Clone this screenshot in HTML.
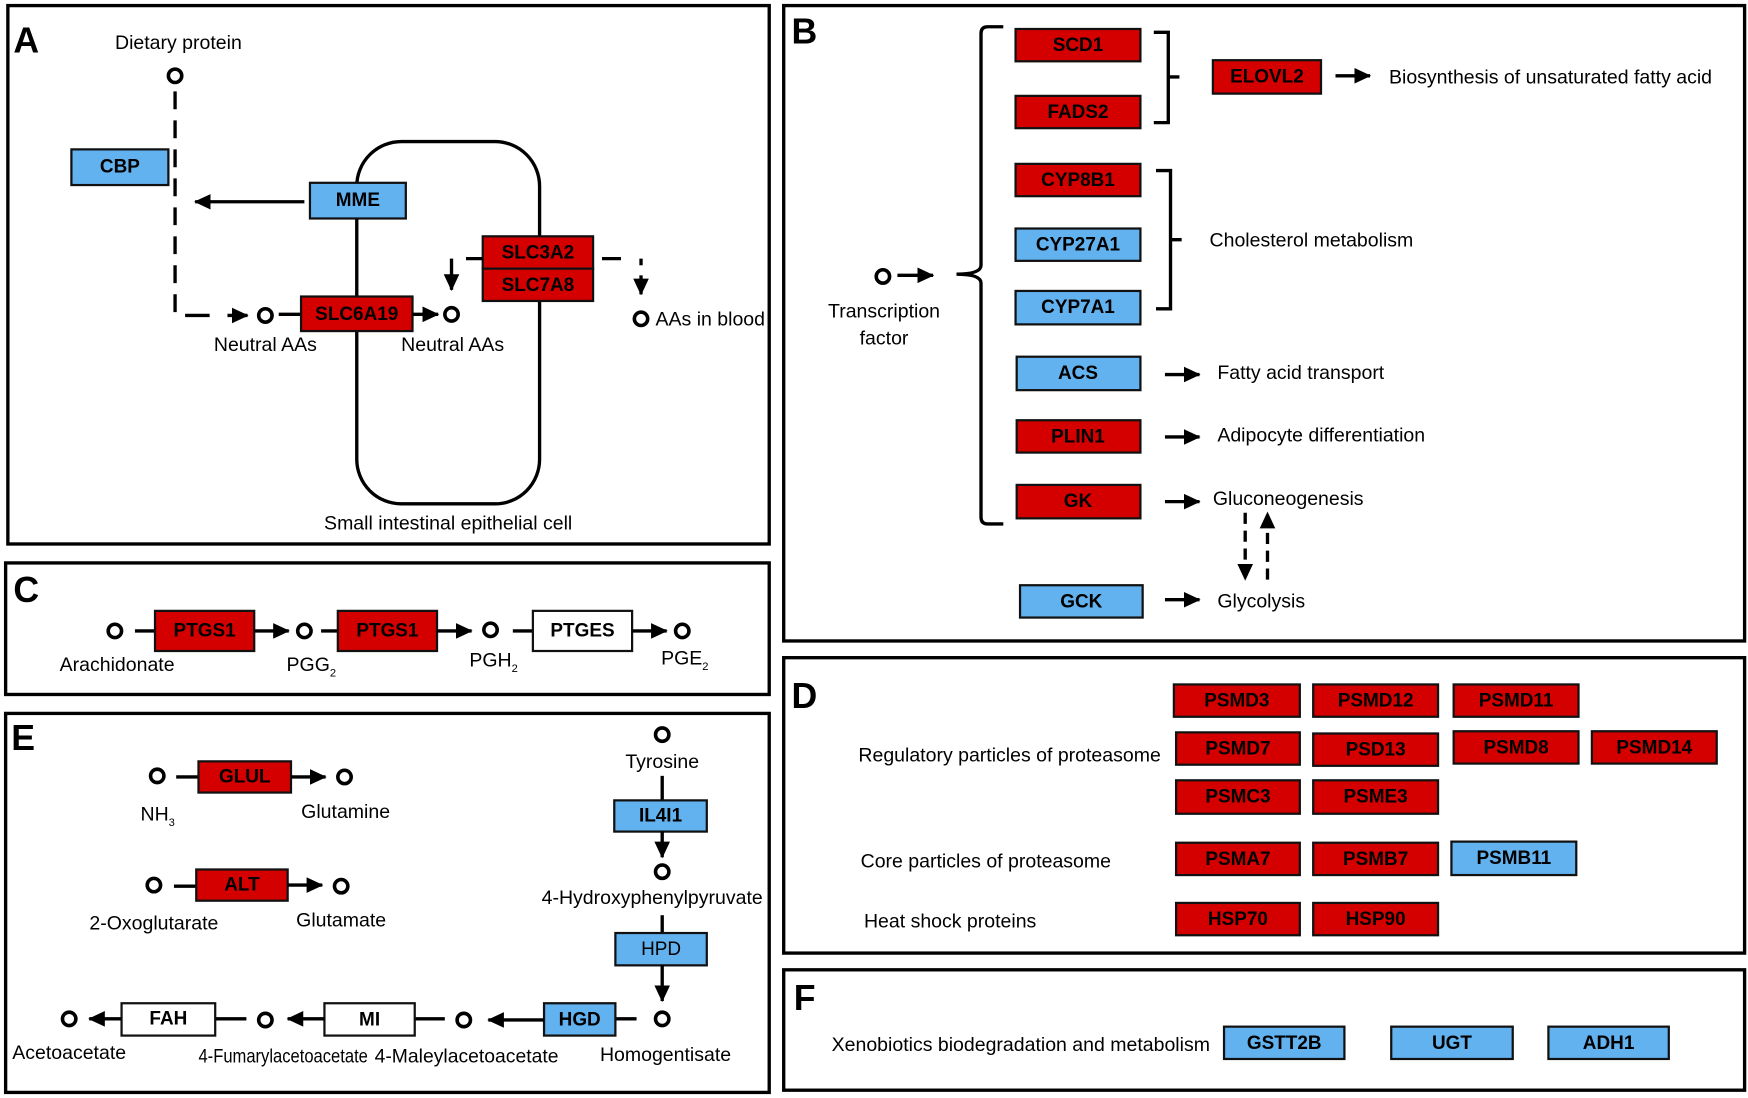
<!DOCTYPE html>
<html><head><meta charset="utf-8"><style>
html,body{margin:0;padding:0;background:#fff}
svg{display:block}
text{font-family:"Liberation Sans",Arial,sans-serif;fill:#000}
.l{font-size:17.5px}
.b{font-size:17px;font-weight:bold;text-anchor:middle;dominant-baseline:central}
.P{font-size:32px;font-weight:bold}
.r{fill:#d40000;stroke:#111;stroke-width:2}
.u{fill:#63b2f0;stroke:#111;stroke-width:2}
.w{fill:#fff;stroke:#111;stroke-width:2}
.f{fill:none;stroke:#000;stroke-width:3}
.c{fill:#fff;stroke:#000;stroke-width:3.2}
.d{fill:none;stroke:#000;stroke-width:3;stroke-dasharray:16,10}
.m{text-anchor:middle}
</style></head><body>
<svg width="1748" height="1098" viewBox="0 0 1568 985" xmlns="http://www.w3.org/2000/svg">
<defs>
<marker id="a" markerUnits="userSpaceOnUse" markerWidth="16" markerHeight="14" refX="14" refY="7" orient="auto"><path d="M0,0 L15,7 L0,14 Z" fill="#000"/></marker>
</defs>
<rect x="7" y="5" width="683" height="483" class="f"/>
<rect x="703" y="5" width="862" height="570" class="f"/>
<rect x="5" y="505" width="685" height="118" class="f"/>
<rect x="703" y="590" width="862" height="265" class="f"/>
<rect x="5" y="640" width="685" height="340" class="f"/>
<rect x="703" y="870" width="862" height="108" class="f"/>

<!-- A -->
<text x="12" y="47" class="P">A</text>
<text x="160" y="44" class="l m">Dietary protein</text>
<circle cx="157" cy="68" r="6" class="c"/>
<line x1="157" y1="82" x2="157" y2="283" class="d"/>
<line x1="166" y1="283" x2="188" y2="283" class="f"/>
<line x1="204" y1="283" x2="222" y2="283" class="f" marker-end="url(#a)"/>
<circle cx="238" cy="283" r="6" class="c"/>
<line x1="250" y1="282" x2="270" y2="282" class="f"/>
<rect x="320" y="127" width="164" height="325" rx="40" class="f"/>
<rect x="64" y="134" width="87" height="32" class="u"/><text x="107.5" y="150" class="b">CBP</text>
<rect x="278" y="164" width="86" height="32" class="u"/><text x="321" y="180" class="b">MME</text>
<line x1="273" y1="181" x2="175" y2="181" class="f" marker-end="url(#a)"/>
<rect x="270" y="266" width="100" height="31" class="r"/><text x="320" y="282" class="b">SLC6A19</text>
<line x1="370" y1="282" x2="393" y2="282" class="f" marker-end="url(#a)"/>
<circle cx="405" cy="282" r="6" class="c"/>
<text x="238" y="315" class="l m">Neutral AAs</text>
<text x="406" y="315" class="l m">Neutral AAs</text>
<rect x="433" y="212" width="99" height="29" class="r"/><text x="482.5" y="227" class="b">SLC3A2</text>
<rect x="433" y="241" width="99" height="29" class="r"/><text x="482.5" y="256" class="b">SLC7A8</text>
<line x1="418" y1="232" x2="433" y2="232" class="f"/>
<line x1="405" y1="232" x2="405" y2="260" class="f" marker-end="url(#a)"/>
<line x1="540" y1="232" x2="557" y2="232" class="f"/>
<line x1="575" y1="232" x2="575" y2="238" class="f"/>
<line x1="575" y1="247" x2="575" y2="264" class="f" marker-end="url(#a)"/>
<circle cx="575" cy="286" r="6" class="c"/>
<text x="588" y="292" class="l">AAs in blood</text>
<text x="402" y="475" class="l m">Small intestinal epithelial cell</text>

<!-- B -->
<text x="710" y="39" class="P">B</text>
<circle cx="792" cy="248" r="6" class="c"/>
<line x1="805" y1="247" x2="837" y2="247" class="f" marker-end="url(#a)"/>
<text x="793" y="285" class="l m">Transcription</text>
<text x="793" y="309" class="l m">factor</text>
<path d="M900,24 H886 Q880,24 880,30 V238 Q880,246 858,246 Q880,246 880,254 V464 Q880,470 886,470 H900" class="f"/>
<rect x="911" y="26" width="112" height="29" class="r"/><text x="967" y="41" class="b">SCD1</text>
<rect x="911" y="86" width="112" height="29" class="r"/><text x="967" y="101" class="b">FADS2</text>
<rect x="911" y="147" width="112" height="29" class="r"/><text x="967" y="162" class="b">CYP8B1</text>
<rect x="911" y="205" width="112" height="29" class="u"/><text x="967" y="220" class="b">CYP27A1</text>
<rect x="911" y="261" width="112" height="30" class="u"/><text x="967" y="276" class="b">CYP7A1</text>
<rect x="912" y="320" width="111" height="30" class="u"/><text x="967" y="335" class="b">ACS</text>
<rect x="912" y="377" width="111" height="29" class="r"/><text x="967" y="392" class="b">PLIN1</text>
<rect x="912" y="435" width="111" height="30" class="r"/><text x="967" y="450" class="b">GK</text>
<rect x="915" y="525" width="110" height="29" class="u"/><text x="970" y="540" class="b">GCK</text>
<path d="M1035,29 H1048 V69 H1058 M1048,69 V110 H1035" class="f"/>
<path d="M1037,153 H1050 V215 H1060 M1050,215 V277 H1037" class="f"/>
<rect x="1088" y="54" width="97" height="30" class="r"/><text x="1136.5" y="69" class="b">ELOVL2</text>
<line x1="1198" y1="68" x2="1229" y2="68" class="f" marker-end="url(#a)"/>
<text x="1246" y="75" class="l">Biosynthesis of unsaturated fatty acid</text>
<text x="1085" y="221" class="l">Cholesterol metabolism</text>
<line x1="1045" y1="336" x2="1076" y2="336" class="f" marker-end="url(#a)"/>
<text x="1092" y="340" class="l">Fatty acid transport</text>
<line x1="1045" y1="392" x2="1076" y2="392" class="f" marker-end="url(#a)"/>
<text x="1092" y="396" class="l">Adipocyte differentiation</text>
<line x1="1045" y1="450" x2="1076" y2="450" class="f" marker-end="url(#a)"/>
<text x="1088" y="453" class="l">Gluconeogenesis</text>
<line x1="1045" y1="538" x2="1076" y2="538" class="f" marker-end="url(#a)"/>
<text x="1092" y="545" class="l">Glycolysis</text>
<line x1="1117" y1="460" x2="1117" y2="520" class="f" stroke-dasharray="10,6" marker-end="url(#a)"/>
<line x1="1137" y1="520" x2="1137" y2="460" class="f" stroke-dasharray="10,6" marker-end="url(#a)"/>

<!-- C -->
<text x="12" y="540" class="P">C</text>
<circle cx="103" cy="566" r="6" class="c"/>
<line x1="121" y1="566" x2="139" y2="566" class="f"/>
<rect x="139" y="548" width="89" height="36" class="r"/><text x="183.5" y="566" class="b">PTGS1</text>
<line x1="228" y1="566" x2="259" y2="566" class="f" marker-end="url(#a)"/>
<circle cx="273" cy="566" r="6" class="c"/>
<line x1="288" y1="566" x2="303" y2="566" class="f"/>
<rect x="303" y="548" width="89" height="36" class="r"/><text x="347.5" y="566" class="b">PTGS1</text>
<line x1="392" y1="566" x2="423" y2="566" class="f" marker-end="url(#a)"/>
<circle cx="440" cy="565" r="6" class="c"/>
<line x1="460" y1="566" x2="478" y2="566" class="f"/>
<rect x="478" y="548" width="89" height="36" class="w"/><text x="522.5" y="566" class="b">PTGES</text>
<line x1="567" y1="566" x2="598" y2="566" class="f" marker-end="url(#a)"/>
<circle cx="612" cy="566" r="6" class="c"/>
<text x="105" y="602" class="l m">Arachidonate</text>
<text x="257" y="602" class="l">PGG<tspan font-size="10" dy="5">2</tspan></text>
<text x="421" y="598" class="l">PGH<tspan font-size="10" dy="5">2</tspan></text>
<text x="593" y="596" class="l">PGE<tspan font-size="10" dy="5">2</tspan></text>

<!-- D -->
<text x="710" y="635" class="P">D</text>
<text x="770" y="683" class="l">Regulatory particles of proteasome</text>
<text x="772" y="778" class="l">Core particles of proteasome</text>
<text x="775" y="832" class="l">Heat shock proteins</text>
<rect x="1053" y="614" width="113" height="29" class="r"/><text x="1109.5" y="629" class="b">PSMD3</text>
<rect x="1178" y="614" width="112" height="29" class="r"/><text x="1234" y="629" class="b">PSMD12</text>
<rect x="1304" y="614" width="112" height="29" class="r"/><text x="1360" y="629" class="b">PSMD11</text>
<rect x="1055" y="657" width="111" height="29" class="r"/><text x="1110.5" y="672" class="b">PSMD7</text>
<rect x="1178" y="658" width="112" height="29" class="r"/><text x="1234" y="673" class="b">PSD13</text>
<rect x="1304" y="656" width="112" height="29" class="r"/><text x="1360" y="671" class="b">PSMD8</text>
<rect x="1428" y="656" width="112" height="29" class="r"/><text x="1484" y="671" class="b">PSMD14</text>
<rect x="1055" y="700" width="111" height="30" class="r"/><text x="1110.5" y="715" class="b">PSMC3</text>
<rect x="1178" y="700" width="112" height="30" class="r"/><text x="1234" y="715" class="b">PSME3</text>
<rect x="1055" y="756" width="111" height="29" class="r"/><text x="1110.5" y="771" class="b">PSMA7</text>
<rect x="1178" y="756" width="112" height="29" class="r"/><text x="1234" y="771" class="b">PSMB7</text>
<rect x="1302" y="755" width="112" height="30" class="u"/><text x="1358" y="770" class="b">PSMB11</text>
<rect x="1055" y="810" width="111" height="29" class="r"/><text x="1110.5" y="825" class="b">HSP70</text>
<rect x="1178" y="810" width="112" height="29" class="r"/><text x="1234" y="825" class="b">HSP90</text>

<!-- E -->
<text x="10" y="673" class="P">E</text>
<circle cx="141" cy="696" r="6" class="c"/>
<line x1="158" y1="697" x2="178" y2="697" class="f"/>
<rect x="178" y="683" width="83" height="28" class="r"/><text x="219.5" y="697" class="b">GLUL</text>
<line x1="261" y1="697" x2="292" y2="697" class="f" marker-end="url(#a)"/>
<circle cx="309" cy="697" r="6" class="c"/>
<text x="126" y="736" class="l">NH<tspan font-size="10" dy="5">3</tspan></text>
<text x="310" y="734" class="l m">Glutamine</text>
<circle cx="138" cy="794" r="6" class="c"/>
<line x1="156" y1="795" x2="176" y2="795" class="f"/>
<rect x="176" y="780" width="82" height="28" class="r"/><text x="217" y="794" class="b">ALT</text>
<line x1="258" y1="794" x2="289" y2="794" class="f" marker-end="url(#a)"/>
<circle cx="306" cy="795" r="6" class="c"/>
<text x="138" y="834" class="l m">2-Oxoglutarate</text>
<text x="306" y="831" class="l m">Glutamate</text>
<circle cx="594" cy="659" r="6" class="c"/>
<text x="594" y="689" class="l m">Tyrosine</text>
<line x1="594" y1="696" x2="594" y2="718" class="f"/>
<rect x="551" y="718" width="83" height="28" class="u"/><text x="592.5" y="732" class="b">IL4I1</text>
<line x1="594" y1="746" x2="594" y2="769" class="f" marker-end="url(#a)"/>
<circle cx="594" cy="782" r="6" class="c"/>
<text x="585" y="811" class="l m">4-Hydroxyphenylpyruvate</text>
<line x1="594" y1="821" x2="594" y2="837" class="f"/>
<rect x="552" y="837" width="82" height="29" class="u"/><text x="593" y="852" class="b" style="font-weight:normal">HPD</text>
<line x1="594" y1="866" x2="594" y2="898" class="f" marker-end="url(#a)"/>
<circle cx="594" cy="914" r="6" class="c"/>
<text x="597" y="952" class="l m">Homogentisate</text>
<line x1="571" y1="914" x2="552" y2="914" class="f"/>
<rect x="488" y="900" width="64" height="29" class="u"/><text x="520" y="915" class="b">HGD</text>
<line x1="488" y1="915" x2="438" y2="915" class="f" marker-end="url(#a)"/>
<circle cx="416" cy="915" r="6" class="c"/>
<line x1="399" y1="914" x2="372" y2="914" class="f"/>
<rect x="291" y="900" width="81" height="29" class="w"/><text x="331.5" y="915" class="b">MI</text>
<line x1="291" y1="914" x2="258" y2="914" class="f" marker-end="url(#a)"/>
<circle cx="238" cy="915" r="6" class="c"/>
<line x1="221" y1="914" x2="193" y2="914" class="f"/>
<rect x="109" y="900" width="84" height="29" class="w"/><text x="151" y="914" class="b">FAH</text>
<line x1="109" y1="914" x2="80" y2="914" class="f" marker-end="url(#a)"/>
<circle cx="62" cy="914" r="6" class="c"/>
<text x="62" y="950" class="l m">Acetoacetate</text>
<text x="178" y="953" class="l" textLength="152" lengthAdjust="spacingAndGlyphs">4-Fumarylacetoacetate</text>
<text x="336" y="953" class="l" textLength="165" lengthAdjust="spacingAndGlyphs">4-Maleylacetoacetate</text>

<!-- F -->
<text x="712" y="906" class="P">F</text>
<text x="746" y="943" class="l">Xenobiotics biodegradation and metabolism</text>
<rect x="1098" y="921" width="108" height="29" class="u"/><text x="1152" y="936" class="b">GSTT2B</text>
<rect x="1248" y="921" width="109" height="29" class="u"/><text x="1302.5" y="936" class="b">UGT</text>
<rect x="1389" y="921" width="108" height="29" class="u"/><text x="1443" y="936" class="b">ADH1</text>
</svg>
</body></html>
